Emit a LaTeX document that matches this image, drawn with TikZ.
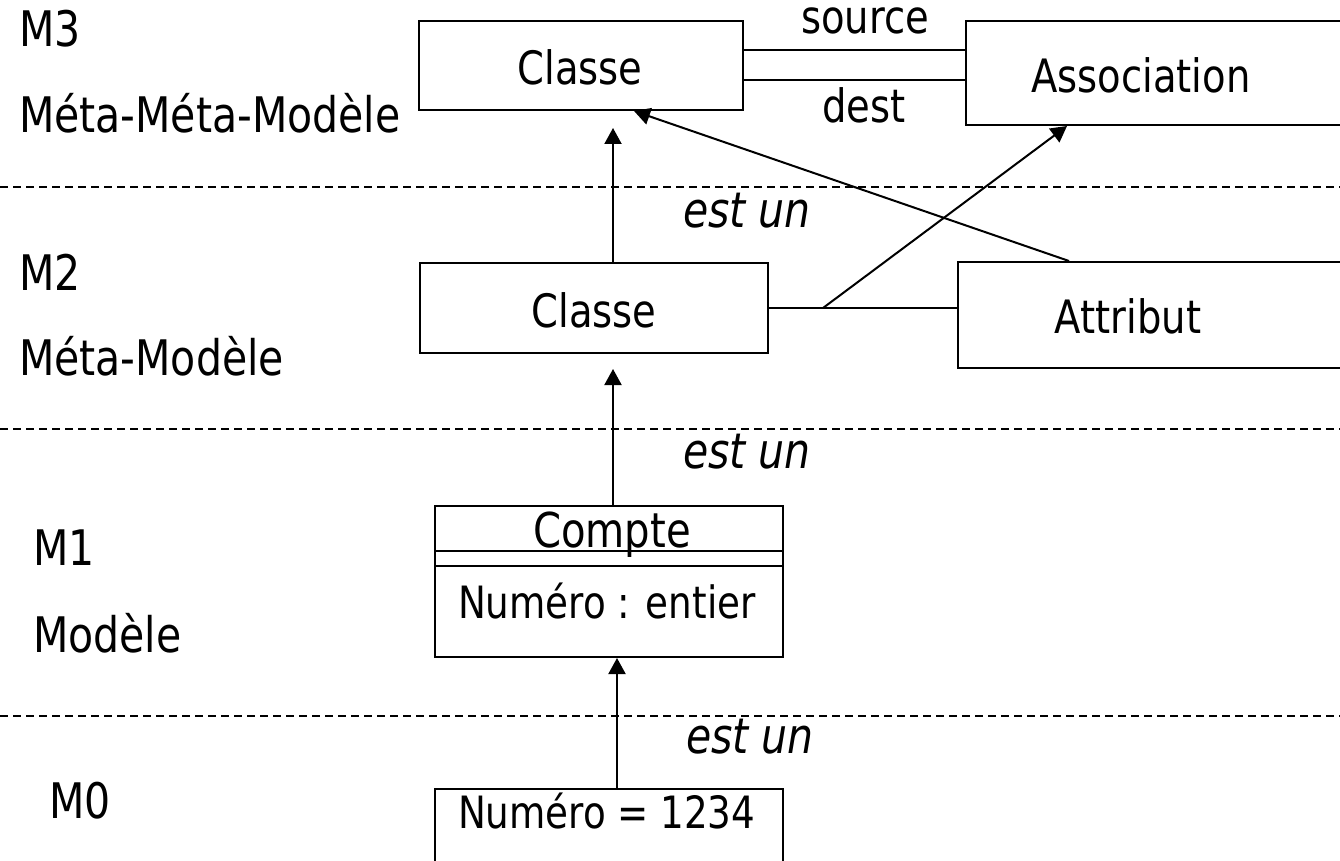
\documentclass[tikz,border=0pt]{standalone}
\usepackage{fontspec}
\setmainfont{DejaVu Sans Condensed}[FakeStretch=0.93]
\usetikzlibrary{arrows.meta}
\begin{document}
\begin{tikzpicture}[x=1pt,y=-1pt,line width=2pt,
  box/.style={draw,line width=2pt,inner sep=0pt,rectangle},
  txt/.style={inner sep=0pt,font=\fontsize{46}{52}\selectfont},
  atxt/.style={inner sep=0pt,anchor=base west,font=\fontsize{44.5}{52}\selectfont},
  lbl/.style={inner sep=0pt,anchor=base west,font=\fontsize{49}{56}\selectfont},
  isa/.style={inner sep=0pt,anchor=base west,font=\fontsize{49}{56}\selectfont\itshape},
  sep/.style={draw,line width=1.5pt,dash pattern=on 8pt off 5pt},
  arr/.style={-{Triangle[length=16pt,width=17pt]},line width=2pt}]
\useasboundingbox (0,0) rectangle (1340,861);
\clip (0,0) rectangle (1340,861);
\fill[white] (0,0) rectangle (1340,861);

% layer separators
\coordinate (l1) at (0,187);   \coordinate (r1) at (1340,187);
\coordinate (l2) at (0,429);   \coordinate (r2) at (1340,429);
\coordinate (l3) at (0,716);   \coordinate (r3) at (1340,716);
\draw[sep] (l1) -- (r1);
\draw[sep] (l2) -- (r2);
\draw[sep] (l3) -- (r3);

% boxes
\node[box,minimum width=324pt,minimum height=89pt] (c3) at (581,65.5) {};
\node[box,minimum width=384pt,minimum height=104pt] (a3) at (1158,73) {};
\node[box,minimum width=348pt,minimum height=90pt] (c2) at (594,308) {};
\node[box,minimum width=392pt,minimum height=106pt] (at2) at (1154,315) {};
\node[box,minimum width=348pt,minimum height=151pt] (cp) at (609,581.5) {};
\node[box,minimum width=348pt,minimum height=91pt] (n0) at (609,834.5) {};
\draw ([yshift=-46pt]cp.north west) -- ([yshift=-46pt]cp.north east);
\draw ([yshift=-61pt]cp.north west) -- ([yshift=-61pt]cp.north east);

% box texts
\node[txt,anchor=base] (c3t) at (580,85) {Classe};
\node[txt,anchor=base] (a3t) at (1141,93) {Association};
\node[txt,anchor=base] (c2t) at (594,327) {Classe};
\node[txt,anchor=base] (at2t) at (1128,333) {Attribut};
\node[txt,anchor=base,font=\fontsize{48}{52}\selectfont] (cpt) at (612,547) {Compte};
\node[atxt] (cpa) at (457,618) {Numéro : entier};
\node[atxt] (n0t) at (457,828) {Numéro = 1234};
\node[txt,anchor=base] (src) at (865,34) {source};
\node[txt,anchor=base] (dst) at (864,123) {dest};

% level labels
\node[lbl] (m3) at (18,47) {M3};
\node[lbl] (m3n) at (18,133) {Méta-Méta-Modèle};
\node[lbl] (m2) at (18,290) {M2};
\node[lbl] (m2n) at (18,375) {Méta-Modèle};
\node[lbl] (m1) at (32,565) {M1};
\node[lbl] (m1n) at (32,652) {Modèle};
\node[lbl] (m0) at (48,818) {M0};

% est un
\node[isa] (e1) at (682,227) {est un};
\node[isa] (e2) at (682,468) {est un};
\node[isa] (e3) at (685,753) {est un};

% connectors
\coordinate (ax1) at (613,0);
\coordinate (ax2) at (617,0);
\draw[arr,shorten >=17pt] (c2.north -| ax1) -- (c3.south -| ax1);
\draw[arr,shorten >=15pt] (cp.north -| ax1) -- (c2.south -| ax1);
\draw[arr] (n0.north -| ax2) -- (cp.south -| ax2);

\draw ([yshift=15pt]c3.east) -- ([yshift=15pt]c3.east -| a3.west);
\draw ([yshift=-15pt]c3.east) -- ([yshift=-15pt]c3.east -| a3.west);

\draw (c2.east) -- (c2.east -| at2.west);
\coordinate (jn) at ([xshift=54pt]c2.east);
\draw[arr] (jn) -- ([xshift=102pt]a3.south west);
\draw[arr] ([xshift=112pt]at2.north west) -- ([xshift=53pt]c3.south);
\end{tikzpicture}
\end{document}
